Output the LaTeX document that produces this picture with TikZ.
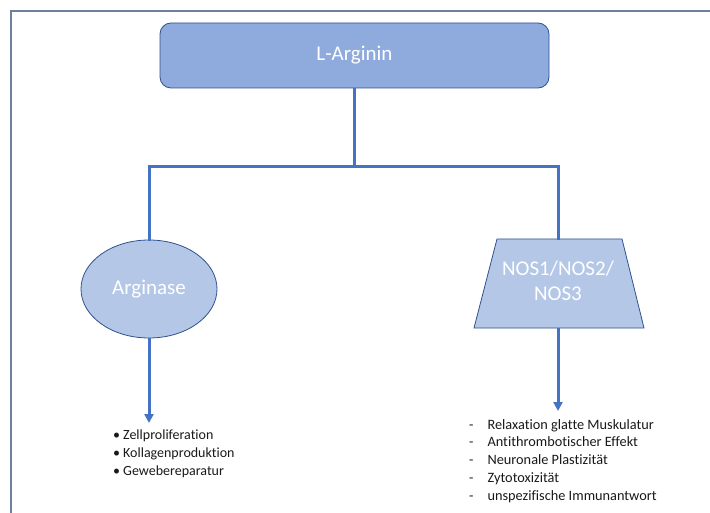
\documentclass[tikz,border=0pt]{standalone}
\usepackage{fontspec}
\setmainfont[Ligatures=NoCommon]{Carlito}
\usetikzlibrary{shapes.geometric,arrows.meta}
\definecolor{framec}{RGB}{110,128,158}
\definecolor{boxfill}{RGB}{143,170,220}
\definecolor{shapefill}{RGB}{180,199,231}
\definecolor{edgec}{RGB}{47,82,143}
\definecolor{linec}{RGB}{68,114,196}
\definecolor{txt}{RGB}{25,25,25}
\tikzset{
  topbox/.style={draw=edgec, line width=0.8pt, fill=boxfill, rounded corners=11pt,
    minimum width=389pt, minimum height=65pt, inner sep=0pt, text=white,
    font=\fontsize{21}{25}\selectfont},
  ellbox/.style={ellipse, draw=edgec, line width=0.8pt, fill=shapefill,
    minimum width=136pt, minimum height=98pt, inner sep=0pt, text=white,
    font=\fontsize{21}{25}\selectfont},
  trapbox/.style={minimum width=170pt, minimum height=89pt, inner sep=0pt, text=white,
    font=\fontsize{21}{25}\selectfont},
  trapshape/.style={draw=edgec, line width=0.8pt, fill=shapefill, line join=miter},
  conn/.style={draw=linec, line width=3pt},
  arr/.style={conn, -{Triangle[length=9pt,width=9pt]}},
  listitem/.style={anchor=base west, inner sep=0pt, text=txt,
    font=\fontsize{14.3}{17}\selectfont},
  listitemL/.style={listitem, font=\fontsize{14}{17}\selectfont},
}
\begin{document}
\begin{tikzpicture}[x=1pt,y=-1pt]
\useasboundingbox (0,0) rectangle (710,513);
% outer frame (continues beyond right and bottom edge)
\draw[framec, line width=1.4pt] (11,513) -- (11,11) -- (710,11);

\node[topbox] (arg) at (354.5,55.5) {L-Arginin};
\node[ellbox] (ase) at (149,289) {Arginase};
% trapezoid: top 497..622 at y=239, bottom 474..644 at y=328
\path[trapshape] (497,239) -- (622,239) -- (644,328) -- (474,328) -- cycle;
\node[trapbox] (nos) at (558,283.5) {\raisebox{-4pt}{\begin{tabular}{@{}c@{}}NOS1/NOS2/\\NOS3\end{tabular}}};

\coordinate (j) at (354.5,167);
\coordinate (aseend) at (149,423);
\coordinate (nosend) at (558,411);

\draw[conn] (arg.south) -- (j);
\draw[conn, line cap=rect] (ase.north) -- (ase.north |- j) -- (nos.north |- j) -- (nos.north);
\draw[arr] (ase.south) -- (aseend);
\draw[arr] (nos.south) -- (nosend);

% left list
\node[listitemL] (a1) at (113,439) {•\hspace{3pt}Zellproliferation};
\node[listitemL] (a2) at (113,457) {•\hspace{3pt}Kollagenproduktion};
\node[listitemL] (a3) at (113,475.5) {•\hspace{3pt}Gewebereparatur};

% right list
\node[listitem] (b1) at (469,429) {-\hspace{14pt}Relaxation glatte Muskulatur};
\node[listitem] (b2) at (469,446.5) {-\hspace{14pt}Antithrombotischer Effekt};
\node[listitem] (b3) at (469,464) {-\hspace{14pt}Neuronale Plastizität};
\node[listitem] (b4) at (469,482) {-\hspace{14pt}Zytotoxizität};
\node[listitem] (b5) at (469,500) {-\hspace{14pt}unspezifische Immunantwort};
\end{tikzpicture}
\end{document}
